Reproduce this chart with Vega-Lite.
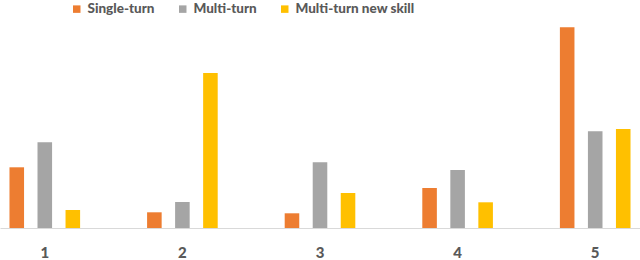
{
  "$schema": "https://vega.github.io/schema/vega-lite/v6.json",
  "width": 640,
  "height": 228,
  "autosize": "none",
  "padding": {"left": 0, "top": 0, "right": 0, "bottom": 32},
  "background": "white",
  "config": {"view": {"stroke": null}},
  "data": {"values": [
    {"group": "1", "series": "Single-turn", "value": 60.7},
    {"group": "1", "series": "Multi-turn", "value": 85.7},
    {"group": "1", "series": "Multi-turn new skill", "value": 18},
    {"group": "2", "series": "Single-turn", "value": 15.7},
    {"group": "2", "series": "Multi-turn", "value": 26},
    {"group": "2", "series": "Multi-turn new skill", "value": 155},
    {"group": "3", "series": "Single-turn", "value": 14.7},
    {"group": "3", "series": "Multi-turn", "value": 65.7},
    {"group": "3", "series": "Multi-turn new skill", "value": 35},
    {"group": "4", "series": "Single-turn", "value": 40},
    {"group": "4", "series": "Multi-turn", "value": 58},
    {"group": "4", "series": "Multi-turn new skill", "value": 25.7},
    {"group": "5", "series": "Single-turn", "value": 200.7},
    {"group": "5", "series": "Multi-turn", "value": 96.7},
    {"group": "5", "series": "Multi-turn new skill", "value": 99}
  ]},
  "mark": {"type": "bar"},
  "encoding": {
    "x": {
      "field": "group", "type": "nominal",
      "scale": {"paddingInner": 0.389, "paddingOuter": 0.02},
      "axis": {
        "title": null, "labelAngle": 0, "ticks": false,
        "domainColor": "#d9d9d9", "domainWidth": 1,
        "labelFont": "Lato", "labelFontWeight": 900, "labelFontSize": 15,
        "labelColor": "#595959", "labelPadding": 17
      }
    },
    "xOffset": {
      "field": "series", "type": "nominal",
      "sort": ["Single-turn", "Multi-turn", "Multi-turn new skill"],
      "scale": {"paddingInner": 0.48, "paddingOuter": 0.24}
    },
    "y": {
      "field": "value", "type": "quantitative",
      "scale": {"domain": [0, 228], "nice": false, "zero": true},
      "axis": null
    },
    "color": {
      "field": "series", "type": "nominal",
      "sort": ["Single-turn", "Multi-turn", "Multi-turn new skill"],
      "scale": {"domain": ["Single-turn", "Multi-turn", "Multi-turn new skill"], "range": ["#ED7D31", "#A5A5A5", "#FFC000"]},
      "legend": {
        "title": null, "orient": "none", "direction": "horizontal",
        "legendX": 70, "legendY": 2, "padding": 0,
        "symbolType": "square", "symbolSize": 56, "symbolStrokeWidth": 0,
        "labelFont": "Lato", "labelFontWeight": 900, "labelFontSize": 13.5,
        "labelColor": "#595959", "labelOffset": 4, "columnPadding": 21
      }
    }
  }
}
